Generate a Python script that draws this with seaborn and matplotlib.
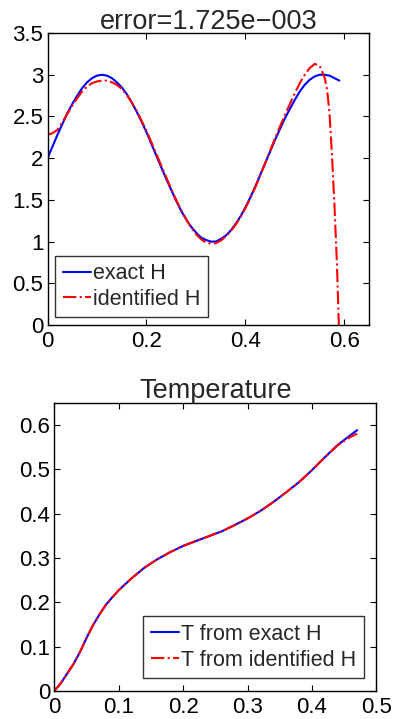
import numpy as np
import seaborn as sns
import matplotlib
matplotlib.use('Agg')
import matplotlib.pyplot as plt

# Top panel: exact vs identified H
x_h = [0.00, 0.01, 0.02, 0.03, 0.04, 0.05, 0.06, 0.07, 0.08, 0.09,
       0.10, 0.11, 0.12, 0.13, 0.14, 0.15, 0.16, 0.17, 0.18, 0.19,
       0.20, 0.21, 0.22, 0.23, 0.24, 0.25, 0.26, 0.27, 0.28, 0.29,
       0.30, 0.31, 0.32, 0.33, 0.34, 0.35, 0.36, 0.37, 0.38, 0.39,
       0.40, 0.41, 0.42, 0.43, 0.44, 0.45, 0.46, 0.47, 0.48, 0.49,
       0.50, 0.51, 0.52, 0.53, 0.54, 0.55, 0.56, 0.57, 0.58, 0.59]
h_exact = [2.00, 2.14, 2.28, 2.41, 2.54, 2.65, 2.75, 2.84, 2.91, 2.96,
           2.99, 3.00, 2.99, 2.96, 2.91, 2.85, 2.77, 2.67, 2.56, 2.44,
           2.31, 2.17, 2.03, 1.89, 1.75, 1.62, 1.49, 1.37, 1.27, 1.18,
           1.11, 1.05, 1.02, 1.00, 1.00, 1.03, 1.07, 1.13, 1.21, 1.30,
           1.41, 1.53, 1.66, 1.80, 1.94, 2.08, 2.22, 2.35, 2.48, 2.59,
           2.70, 2.80, 2.88, 2.94, 2.98, 3.00, 3.00, 2.99, 2.96, 2.93]

x_hid = [0.00, 0.01, 0.02, 0.03, 0.04, 0.05, 0.06, 0.07, 0.08, 0.09,
         0.10, 0.11, 0.12, 0.13, 0.14, 0.15, 0.16, 0.17, 0.18, 0.19,
         0.20, 0.21, 0.22, 0.23, 0.24, 0.25, 0.26, 0.27, 0.28, 0.29,
         0.30, 0.31, 0.32, 0.33, 0.34, 0.35, 0.36, 0.37, 0.38, 0.39,
         0.40, 0.41, 0.42, 0.43, 0.44, 0.45, 0.46, 0.47, 0.48, 0.49,
         0.50, 0.51, 0.52, 0.53, 0.54, 0.55, 0.56, 0.565, 0.57, 0.575,
         0.58, 0.585, 0.589]
h_ident = [2.28, 2.30, 2.34, 2.43, 2.53, 2.63, 2.72, 2.80, 2.86, 2.90,
           2.92, 2.93, 2.93, 2.91, 2.88, 2.83, 2.76, 2.67, 2.57, 2.45,
           2.33, 2.19, 2.05, 1.91, 1.77, 1.63, 1.50, 1.38, 1.27, 1.17,
           1.09, 1.03, 0.99, 0.975, 0.98, 1.01, 1.06, 1.12, 1.20, 1.29,
           1.40, 1.52, 1.65, 1.79, 1.94, 2.09, 2.24, 2.38, 2.52, 2.65,
           2.78, 2.90, 3.00, 3.08, 3.13, 3.11, 2.97, 2.83, 2.55, 2.05,
           1.45, 0.75, 0.0]

# Bottom panel: temperature
x_t = [0.0, 0.01, 0.02, 0.03, 0.04, 0.05, 0.06, 0.07, 0.08, 0.09,
       0.10, 0.12, 0.14, 0.16, 0.18, 0.20, 0.22, 0.24, 0.26, 0.28,
       0.30, 0.32, 0.34, 0.36, 0.38, 0.40, 0.42, 0.44, 0.46, 0.47]
t_exact = [0.0, 0.017, 0.039, 0.061, 0.088, 0.119, 0.148, 0.172, 0.194, 0.211,
           0.227, 0.254, 0.278, 0.297, 0.313, 0.327, 0.338, 0.349, 0.360, 0.374,
           0.389, 0.406, 0.426, 0.448, 0.471, 0.498, 0.527, 0.555, 0.577, 0.588]
t_ident = [0.0, 0.017, 0.039, 0.061, 0.088, 0.119, 0.148, 0.172, 0.194, 0.211,
           0.227, 0.254, 0.278, 0.297, 0.313, 0.327, 0.338, 0.349, 0.360, 0.374,
           0.389, 0.406, 0.426, 0.448, 0.471, 0.498, 0.527, 0.554, 0.573, 0.580]

sns.set_theme(style='white')
plt.rcParams['font.family'] = ['Liberation Sans', 'DejaVu Sans']
plt.rcParams['axes.edgecolor'] = 'black'
plt.rcParams['axes.linewidth'] = 1.0

fig = plt.figure(figsize=(3.93, 7.19), dpi=100)
ax1 = fig.add_axes([0.121, 0.548, 0.818, 0.406])
ax2 = fig.add_axes([0.138, 0.039, 0.820, 0.401])

leg_kw = dict(fontsize=15.5, frameon=True, fancybox=False, edgecolor='black',
              handlelength=1.3, handletextpad=0.1, borderpad=0.35,
              labelspacing=0.22)

sns.lineplot(x=x_h, y=h_exact, ax=ax1, color='#0000ff', lw=1.5, label='exact H')
sns.lineplot(x=x_hid, y=h_ident, ax=ax1, color='#ff0000', lw=1.5, linestyle='-.', label='identified H')
ax1.set_xlim(0, 0.65)
ax1.set_ylim(0, 3.5)
ax1.set_xticks([0, 0.2, 0.4, 0.6])
ax1.set_xticklabels(['0', '0.2', '0.4', '0.6'])
ax1.set_yticks([0, 0.5, 1, 1.5, 2, 2.5, 3, 3.5])
ax1.set_yticklabels(['0', '0.5', '1', '1.5', '2', '2.5', '3', '3.5'])
ax1.set_title('error=1.725e\u2212003', fontsize=19.5, pad=3)
ax1.legend(loc='lower left', borderaxespad=0.35, **leg_kw)

sns.lineplot(x=x_t, y=t_exact, ax=ax2, color='#0000ff', lw=1.5, label='T from exact H')
sns.lineplot(x=x_t, y=t_ident, ax=ax2, color='#ff0000', lw=1.5, linestyle='-.', label='T from identified H')
ax2.set_xlim(0, 0.5)
ax2.set_ylim(0, 0.65)
ax2.set_xticks([0, 0.1, 0.2, 0.3, 0.4, 0.5])
ax2.set_xticklabels(['0', '0.1', '0.2', '0.3', '0.4', '0.5'])
ax2.set_yticks([0, 0.1, 0.2, 0.3, 0.4, 0.5, 0.6])
ax2.set_yticklabels(['0', '0.1', '0.2', '0.3', '0.4', '0.5', '0.6'])
ax2.set_title('Temperature', fontsize=19.5, pad=3)
ax2.legend(loc='lower right', borderaxespad=0.6, **leg_kw)

for ax in (ax1, ax2):
    ax.tick_params(direction='in', length=4, width=0.8, top=True, right=True,
                   bottom=True, left=True, labelsize=16, colors='black')
    ax.tick_params(axis='x', pad=4)
    ax.tick_params(axis='y', pad=3)
    for s in ax.spines.values():
        s.set_visible(True)
        s.set_color('black')
    ax.set_xlabel('')
    ax.set_ylabel('')

fig.savefig('out.png', dpi=100)
